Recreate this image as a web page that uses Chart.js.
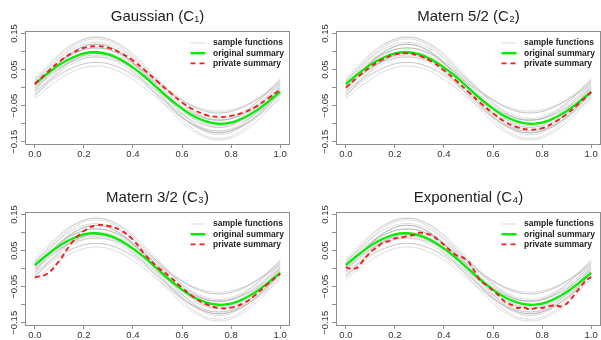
<!DOCTYPE html>
<html><head><meta charset="utf-8">
<script src="https://cdn.jsdelivr.net/npm/chart.js@4"></script>
<style>
html,body{margin:0;padding:0;background:#fff;overflow:hidden;}
#wrap{position:relative;width:601px;height:340px;overflow:hidden;background:#fff;}
canvas{position:absolute;}
</style></head><body>
<div id="wrap">
<canvas id="c1" width="300" height="170" style="left:0;top:0"></canvas>
<canvas id="c2" width="300" height="170" style="left:311px;top:0"></canvas>
<canvas id="c3" width="300" height="170" style="left:0;top:181px"></canvas>
<canvas id="c4" width="300" height="170" style="left:311px;top:181px"></canvas>
</div>
<script>
const panelTitles = ['Gaussian (C\u2081)', 'Matern 5/2 (C\u2082)', 'Matern 3/2 (C\u2083)', 'Exponential (C\u2084)'];
const legendLabels = ['sample functions', 'original summary', 'private summary'];
const xTicks = [0, 0.2, 0.4, 0.6, 0.8, 1.0];
const yTicks = [-0.15, -0.1, -0.05, 0, 0.05, 0.1, 0.15];
const yLabelTicks = [-0.15, -0.05, 0.05, 0.15];

const xSample = [0, 0.0833, 0.1667, 0.25, 0.3333, 0.4167, 0.5, 0.5833, 0.6667, 0.75, 0.8333, 0.9167, 1];
const sampleFunctions = [
  [0.025, 0.083, 0.125, 0.140, 0.125, 0.083, 0.025, -0.033, -0.075, -0.090, -0.075, -0.033, 0.025],
  [0.020, 0.065, 0.098, 0.110, 0.098, 0.065, 0.020, -0.025, -0.058, -0.070, -0.058, -0.025, 0.020],
  [0.015, 0.078, 0.123, 0.140, 0.123, 0.078, 0.015, -0.048, -0.093, -0.110, -0.093, -0.048, 0.015],
  [0.010, 0.048, 0.075, 0.085, 0.075, 0.048, 0.010, -0.028, -0.055, -0.065, -0.055, -0.028, 0.010],
  [0.005, 0.058, 0.096, 0.110, 0.096, 0.058, 0.005, -0.048, -0.086, -0.100, -0.086, -0.048, 0.005],
  [0.000, 0.060, 0.104, 0.120, 0.104, 0.060, 0.000, -0.060, -0.104, -0.120, -0.104, -0.060, 0.000],
  [0.000, 0.045, 0.078, 0.090, 0.078, 0.045, 0.000, -0.045, -0.078, -0.090, -0.078, -0.045, 0.000],
  [-0.005, 0.045, 0.082, 0.095, 0.082, 0.045, -0.005, -0.055, -0.092, -0.105, -0.092, -0.055, -0.005],
  [-0.010, 0.055, 0.103, 0.120, 0.103, 0.055, -0.010, -0.075, -0.123, -0.140, -0.123, -0.075, -0.010],
  [-0.010, 0.030, 0.059, 0.070, 0.059, 0.030, -0.010, -0.050, -0.079, -0.090, -0.079, -0.050, -0.010],
  [-0.015, 0.040, 0.080, 0.095, 0.080, 0.040, -0.015, -0.070, -0.110, -0.125, -0.110, -0.070, -0.015],
  [-0.020, 0.025, 0.058, 0.070, 0.058, 0.025, -0.020, -0.065, -0.098, -0.110, -0.098, -0.065, -0.020],
  [-0.025, 0.035, 0.079, 0.095, 0.079, 0.035, -0.025, -0.085, -0.129, -0.145, -0.129, -0.085, -0.025],
  [-0.030, 0.015, 0.048, 0.060, 0.048, 0.015, -0.030, -0.075, -0.108, -0.120, -0.108, -0.075, -0.030],
  [0.010, 0.060, 0.097, 0.110, 0.097, 0.060, 0.010, -0.040, -0.077, -0.090, -0.077, -0.040, 0.010],
  [-0.005, 0.058, 0.103, 0.120, 0.103, 0.058, -0.005, -0.068, -0.113, -0.130, -0.113, -0.068, -0.005],
  [0.015, 0.058, 0.089, 0.100, 0.089, 0.058, 0.015, -0.028, -0.059, -0.070, -0.059, -0.028, 0.015],
  [0.005, 0.070, 0.118, 0.135, 0.118, 0.070, 0.005, -0.060, -0.108, -0.125, -0.108, -0.060, 0.005],
  [-0.020, 0.033, 0.071, 0.085, 0.071, 0.033, -0.020, -0.073, -0.111, -0.125, -0.111, -0.073, -0.020],
  [0.020, 0.073, 0.111, 0.125, 0.111, 0.073, 0.020, -0.033, -0.071, -0.085, -0.071, -0.033, 0.020]
];

const xSummary = [0, 0.05, 0.1, 0.15, 0.2, 0.25, 0.3, 0.35, 0.4, 0.45, 0.5, 0.55, 0.6, 0.65, 0.7, 0.75, 0.8, 0.85, 0.9, 0.95, 1];
const originalSummary = [0.010, 0.038, 0.063, 0.082, 0.095, 0.098, 0.092, 0.078, 0.056, 0.029, -0.001, -0.031, -0.058, -0.080, -0.094, -0.100, -0.097, -0.084, -0.065, -0.040, -0.012];
const privateGaussian = [0.010, 0.042, 0.072, 0.095, 0.110, 0.115, 0.110, 0.096, 0.075, 0.047, 0.017, -0.013, -0.041, -0.062, -0.076, -0.081, -0.078, -0.069, -0.053, -0.030, -0.006];
const privateMatern52 = [0.000, 0.030, 0.057, 0.078, 0.092, 0.095, 0.088, 0.072, 0.048, 0.019, -0.012, -0.043, -0.071, -0.095, -0.110, -0.116, -0.112, -0.096, -0.073, -0.044, -0.012];
const privateMatern32 = [-0.024, -0.014, 0.022, 0.071, 0.104, 0.120, 0.118, 0.106, 0.080, 0.038, 0.004, -0.022, -0.053, -0.080, -0.099, -0.109, -0.108, -0.096, -0.072, -0.042, -0.014];

const xExponential = [0, 0.025, 0.05, 0.075, 0.1, 0.125, 0.15, 0.175, 0.2, 0.225, 0.25, 0.275, 0.3, 0.325, 0.35, 0.375, 0.4, 0.425, 0.45, 0.475, 0.5, 0.525, 0.55, 0.575, 0.6, 0.625, 0.65, 0.675, 0.7, 0.725, 0.75, 0.775, 0.8, 0.825, 0.85, 0.875, 0.9, 0.925, 0.95, 0.975, 1];
const privateExponential = [0.004, -0.002, 0.004, 0.026, 0.046, 0.058, 0.072, 0.076, 0.084, 0.086, 0.090, 0.093, 0.100, 0.097, 0.093, 0.080, 0.066, 0.050, 0.037, 0.032, 0.020, -0.008, -0.036, -0.046, -0.061, -0.076, -0.093, -0.100, -0.109, -0.106, -0.114, -0.109, -0.109, -0.104, -0.101, -0.105, -0.097, -0.078, -0.056, -0.035, -0.023];

const FONT = "'Liberation Sans', Arial, Helvetica, sans-serif";
const GRAY = 'rgba(160,160,160,0.36)';
const GREEN = '#00ee00';
const RED = '#f01e1e';
const AXIS = '#8e8e8e';

function zip(xs, ys) { return xs.map((x, i) => ({x: x, y: ys[i]})); }

const panelPlugin = {
  id: 'panelDecor',
  afterDatasetsDraw(chart) {
    const ctx = chart.ctx, a = chart.chartArea;
    ctx.save();
    ctx.strokeStyle = AXIS; ctx.lineWidth = 1; ctx.setLineDash([]);
    const l = Math.round(a.left) + 0.5, t = Math.round(a.top) + 0.5;
    const r = Math.round(a.right) - 0.5, b = Math.round(a.bottom) + 0.5;
    ctx.strokeRect(l, t, r - l, b - t);
    const rows = [43, 53.2, 63.4];
    const x0 = 190.5, x1 = 205.5, tx = 213;
    ctx.lineCap = 'butt';
    ctx.strokeStyle = GRAY; ctx.lineWidth = 1;
    ctx.beginPath(); ctx.moveTo(x0, rows[0]); ctx.lineTo(x1, rows[0]); ctx.stroke();
    ctx.strokeStyle = GREEN; ctx.lineWidth = 2.4;
    ctx.beginPath(); ctx.moveTo(x0, rows[1]); ctx.lineTo(x1, rows[1]); ctx.stroke();
    ctx.strokeStyle = RED; ctx.lineWidth = 1.9; ctx.setLineDash([5, 4]);
    ctx.beginPath(); ctx.moveTo(x0, rows[2]); ctx.lineTo(x1 + 0.5, rows[2]); ctx.stroke();
    ctx.setLineDash([]);
    ctx.fillStyle = '#222';
    ctx.font = 'bold 8.5px ' + FONT;
    ctx.textAlign = 'left'; ctx.textBaseline = 'middle';
    legendLabels.forEach((s, i) => ctx.fillText(s, tx, rows[i]));
    ctx.restore();
  },
  afterDraw(chart) {
    const ctx = chart.ctx, ys = chart.scales.y;
    ctx.save();
    ctx.fillStyle = '#333';
    ctx.font = '9.5px ' + FONT;
    ctx.textAlign = 'center'; ctx.textBaseline = 'middle';
    yLabelTicks.forEach(v => {
      const py = ys.getPixelForValue(v);
      const txt = (v < 0 ? '\u2212' : '') + Math.abs(v).toFixed(2);
      ctx.save();
      ctx.translate(14.5, py);
      ctx.rotate(-Math.PI / 2);
      ctx.fillText(txt, 0, 0);
      ctx.restore();
    });
    ctx.restore();
  }
};

function makeChart(id, titleText, privX, privY, privTension) {
  const datasets = [
    {label: legendLabels[2], data: zip(privX, privY), borderColor: RED, borderWidth: 1.9, borderDash: [5, 3.5], tension: privTension, fill: false},
    {label: legendLabels[1], data: zip(xSummary, originalSummary), borderColor: GREEN, borderWidth: 2.3, tension: 0.4, fill: false}
  ].concat(sampleFunctions.map(s => ({label: legendLabels[0], data: zip(xSample, s), borderColor: GRAY, borderWidth: 1, tension: 0.4, fill: false})));
  return new Chart(document.getElementById(id), {
    type: 'line',
    data: {datasets: datasets},
    plugins: [panelPlugin],
    options: {
      responsive: false, animation: false, devicePixelRatio: 1,
      layout: {padding: {left: 0, right: 10, top: 0, bottom: 0}},
      elements: {point: {radius: 0}},
      plugins: {
        legend: {display: false},
        tooltip: {enabled: false},
        title: {display: true, text: titleText, fullSize: false, color: '#222',
          font: {family: FONT, size: 15, weight: 'normal', lineHeight: 1.2},
          padding: {top: 8, bottom: 5.3}}
      },
      scales: {
        x: {
          type: 'linear', min: -0.04, max: 1.04,
          afterBuildTicks: s => { s.ticks = xTicks.map(v => ({value: v})); },
          afterFit: s => { s.height = 26; },
          grid: {drawOnChartArea: false, drawTicks: true, tickLength: 4, color: AXIS},
          border: {display: false},
          ticks: {autoSkip: false, maxRotation: 0, minRotation: 0, padding: 0.5, color: '#333',
            font: {family: FONT, size: 9.5}, callback: v => Number(v).toFixed(1)}
        },
        y: {
          type: 'linear', min: -0.156, max: 0.156,
          afterBuildTicks: s => { s.ticks = yTicks.map(v => ({value: v})); },
          afterFit: s => { s.width = 25; },
          grid: {drawOnChartArea: false, drawTicks: true, tickLength: 4, color: AXIS},
          border: {display: false},
          ticks: {display: false}
        }
      }
    }
  });
}

makeChart('c1', panelTitles[0], xSummary, privateGaussian, 0.4);
makeChart('c2', panelTitles[1], xSummary, privateMatern52, 0.4);
makeChart('c3', panelTitles[2], xSummary, privateMatern32, 0.4);
makeChart('c4', panelTitles[3], xExponential, privateExponential, 0.1);
</script>
</body></html>
